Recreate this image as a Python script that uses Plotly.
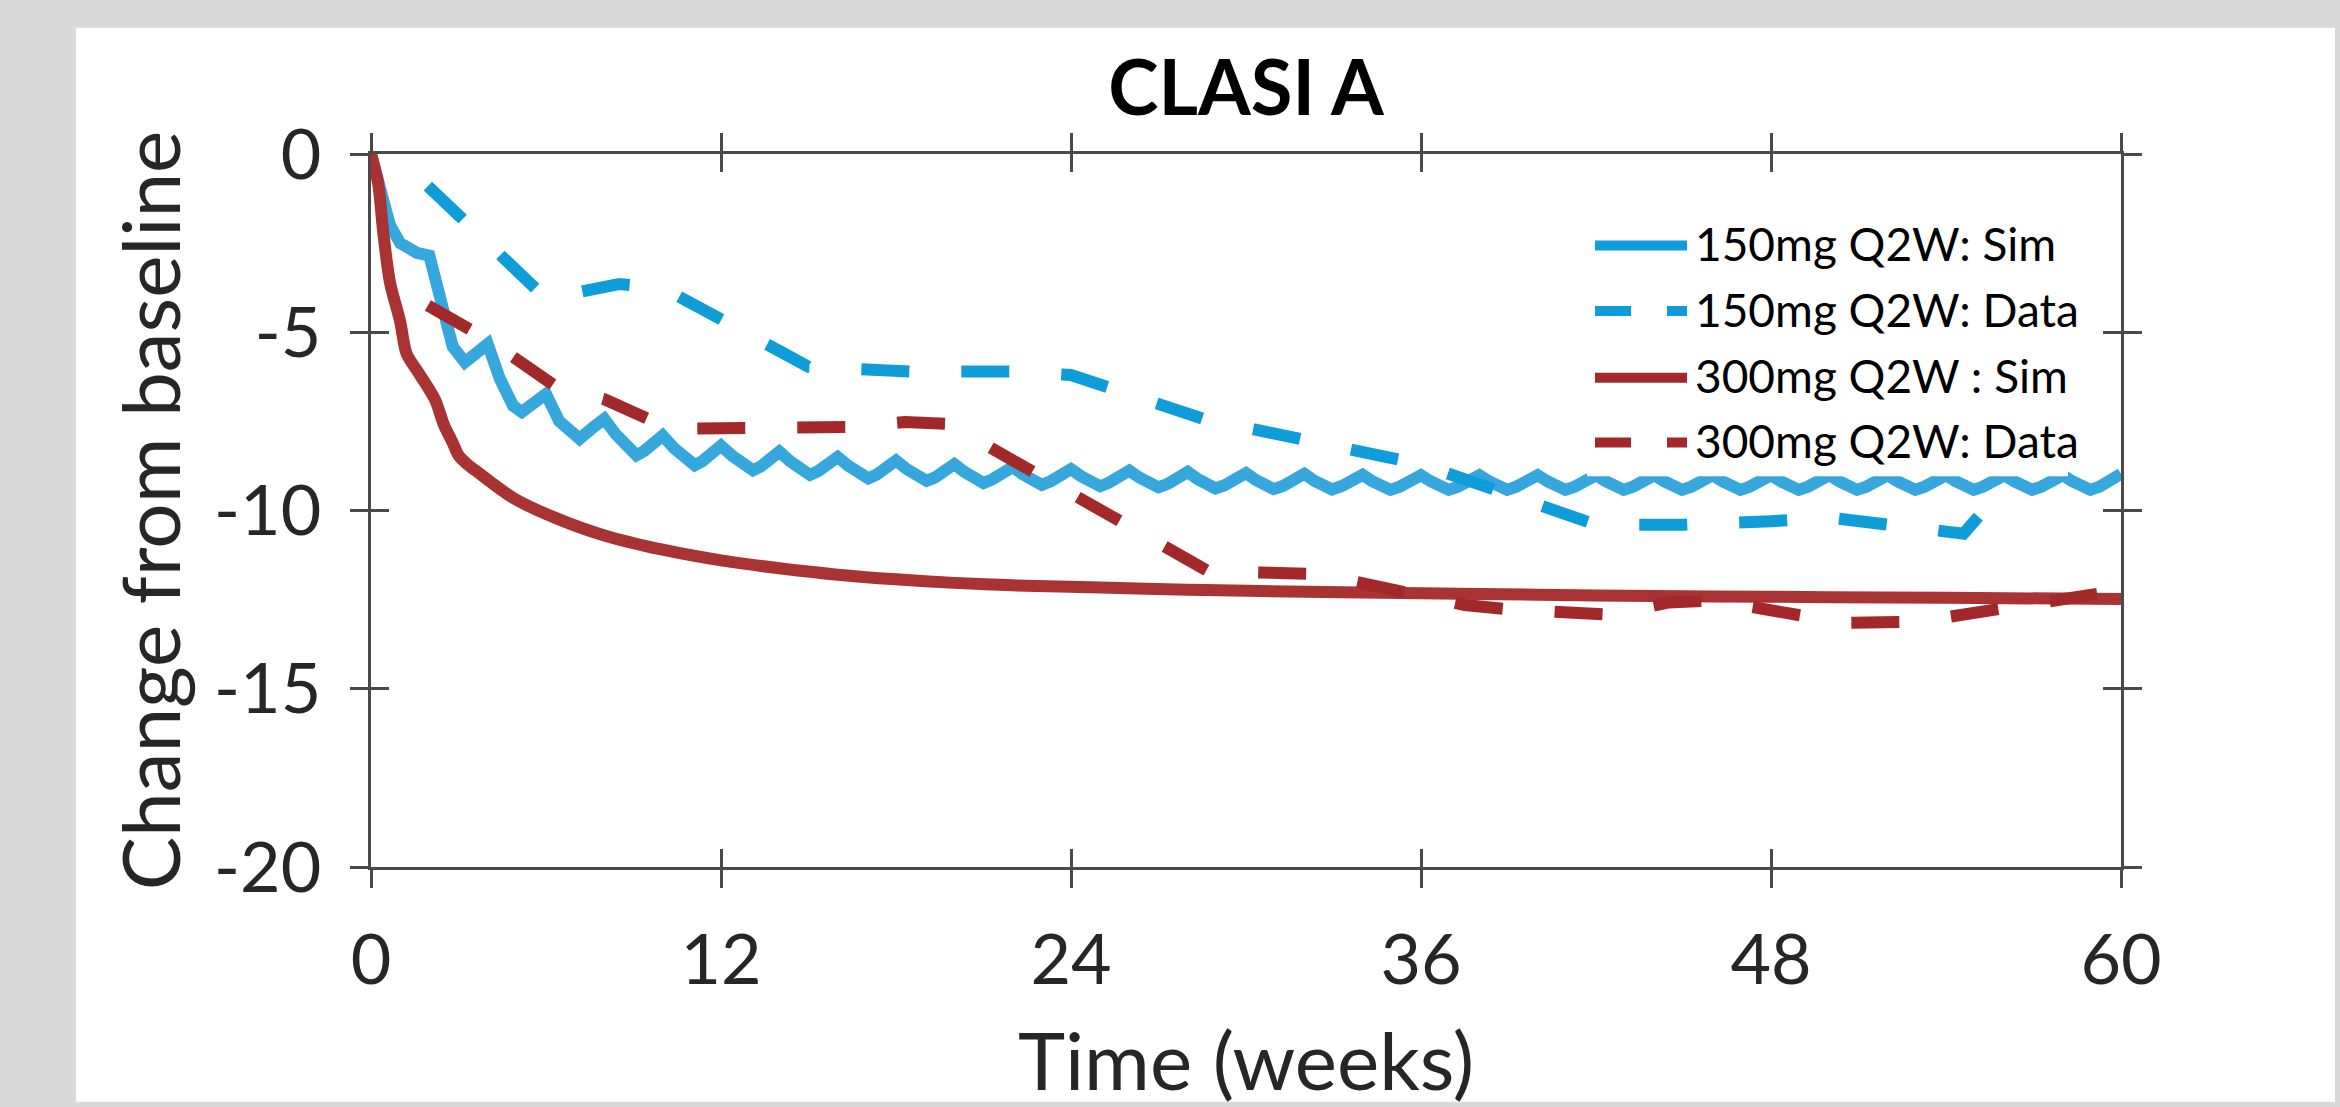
import plotly.graph_objects as go

# ---------------- data ----------------
weeks_ticks = [0, 12, 24, 36, 48, 60]
y_ticks = [0, -5, -10, -15, -20]

sim150_t = [0, 0.25, 0.42, 0.65, 1.0, 1.57, 2.0, 2.25, 2.47, 2.8, 3.22, 3.6, 4.0,
            4.42, 4.87, 5.17, 5.68, 6.0,
            6.45, 7.15, 7.6, 8.0,
            8.39, 8.77, 9.1, 9.37, 9.69, 10.0,
            10.39, 10.77, 11.1, 11.37, 11.69, 12.0,
            12.39, 12.77, 13.1, 13.37, 13.69, 14.0,
            14.37, 14.74, 15.05, 15.34, 15.67, 16.0,
            16.37, 16.74, 17.05, 17.34, 17.67, 18.0,
            18.37, 18.74, 19.05, 19.34, 19.67, 20.0,
            20.35, 20.7, 21.0, 21.3, 21.65, 22.0,
            22.35, 22.7, 23.0, 23.3, 23.65, 24.0,
            24.35, 24.7, 25.0, 25.3, 25.65, 26.0,
            26.35, 26.7, 27.0, 27.3, 27.65, 28.0,
            28.33, 28.67, 28.95, 29.27, 29.63, 30.0,
            30.33, 30.67, 30.95, 31.27, 31.63, 32.0,
            32.33, 32.67, 32.95, 33.27, 33.63, 34.0,
            34.33, 34.67, 34.95, 35.27, 35.63, 36.0,
            36.33, 36.67, 36.95, 37.27, 37.63, 38.0,
            38.33, 38.67, 38.95, 39.27, 39.63, 40.0,
            40.33, 40.67, 40.95, 41.27, 41.63, 42.0,
            42.33, 42.67, 42.95, 43.27, 43.63, 44.0,
            44.33, 44.67, 44.95, 45.27, 45.63, 46.0,
            46.33, 46.67, 46.95, 47.27, 47.63, 48.0,
            48.33, 48.67, 48.95, 49.27, 49.63, 50.0,
            50.33, 50.67, 50.95, 51.27, 51.63, 52.0,
            52.33, 52.67, 52.95, 53.27, 53.63, 54.0,
            54.33, 54.67, 54.95, 55.27, 55.63, 56.0,
            56.33, 56.67, 56.95, 57.27, 57.63, 58.0,
            58.33, 58.67, 58.95, 59.27, 59.63, 60.0]
sim150_v = [0, -0.7, -1.1, -2.0, -2.5, -2.77, -2.85, -3.7, -4.5, -5.4, -5.84, -5.6, -5.33,
            -6.31, -7.06, -7.24, -6.96, -6.73,
            -7.49, -7.99, -7.68, -7.43,
            -7.86, -8.23, -8.45, -8.33, -8.13, -7.90,
            -8.25, -8.55, -8.73, -8.61, -8.41, -8.18,
            -8.47, -8.72, -8.87, -8.76, -8.57, -8.35,
            -8.62, -8.86, -9.00, -8.89, -8.71, -8.50,
            -8.75, -8.97, -9.10, -8.99, -8.81, -8.60,
            -8.84, -9.05, -9.17, -9.07, -8.90, -8.70,
            -8.92, -9.11, -9.23, -9.13, -8.97, -8.78,
            -8.99, -9.17, -9.28, -9.18, -9.03, -8.84,
            -9.04, -9.21, -9.32, -9.22, -9.07, -8.88,
            -9.08, -9.25, -9.35, -9.26, -9.10, -8.92,
            -9.11, -9.28, -9.38, -9.29, -9.13, -8.95,
            -9.14, -9.30, -9.40, -9.31, -9.15, -8.97,
            -9.16, -9.31, -9.41, -9.32, -9.17, -9.00,
            -9.18, -9.33, -9.42, -9.33, -9.18, -9.01,
            -9.18, -9.33, -9.42, -9.33, -9.18, -9.01,
            -9.18, -9.33, -9.42, -9.33, -9.18, -9.01,
            -9.18, -9.33, -9.42, -9.33, -9.18, -9.01,
            -9.18, -9.33, -9.42, -9.33, -9.18, -9.01,
            -9.18, -9.33, -9.42, -9.33, -9.18, -9.01,
            -9.18, -9.33, -9.42, -9.33, -9.18, -9.01,
            -9.18, -9.33, -9.42, -9.33, -9.18, -9.01,
            -9.18, -9.33, -9.42, -9.33, -9.18, -9.01,
            -9.18, -9.33, -9.42, -9.33, -9.18, -9.01,
            -9.18, -9.33, -9.42, -9.33, -9.18, -9.01,
            -9.18, -9.33, -9.42, -9.33, -9.18, -9.01,
            -9.18, -9.33, -9.42, -9.33, -9.16, -8.97]

sim300_t = [0, 0.24, 0.42, 0.65, 1.0, 1.22, 1.68, 2.2, 2.5, 2.8, 3.0, 3.3, 3.7, 4.1, 4.9,
            6.3, 8.0, 10.0, 12.0, 14.0, 16.0, 18.0, 20.0, 22.0, 25.0, 28.0, 32.0,
            36.0, 40.0, 44.0, 48.0, 52.0, 56.0, 60.0]
sim300_v = [0, -0.8, -2.2, -3.6, -4.7, -5.6, -6.2, -6.9, -7.6, -8.1, -8.45, -8.7, -8.95, -9.2, -9.66,
            -10.2, -10.7, -11.1, -11.4, -11.62, -11.8, -11.93, -12.03, -12.1, -12.16, -12.22, -12.28,
            -12.32, -12.36, -12.4, -12.42, -12.44, -12.46, -12.48]

data150_t = [1.95, 6.0, 8.5, 10.0, 15.0, 18.5, 22.0, 24.0, 28.5, 36.0, 42.0, 45.0, 48.0, 50.0, 54.6, 55.4]
data150_v = [-0.9, -4.05, -3.65, -3.75, -5.97, -6.1, -6.1, -6.2, -7.42, -8.7, -10.4, -10.4, -10.3, -10.2, -10.65, -9.9]

data300_t = [1.95, 4.0, 6.3, 8.0, 9.5, 10.8, 16.3, 18.3, 19.8, 28.7, 32.5, 37.5, 39.0, 42.5, 44.5, 46.0,
             50.5, 53.0, 59.5]
data300_v = [-4.25, -5.2, -6.5, -6.88, -7.43, -7.7, -7.66, -7.52, -7.57, -11.7, -11.78, -12.65, -12.77,
             -12.92, -12.58, -12.52, -13.15, -13.12, -12.3]

legend_labels = ["150mg Q2W: Sim", "150mg Q2W: Data", "300mg Q2W : Sim", "300mg Q2W: Data"]

# ---------------- styling ----------------
BLUE_SIM = "#36a7dd"
BLUE = "#0e9dd8"
RED_SIM = "#a93232"
RED = "#a3282a"
AXC = "#4a4a4a"
TXT = "#262626"
FONT = "Lato"

W, H = 2340, 1107
L, R, T, B = 371, 2121, 154, 871  # plot area pixel box


def px(xp):
    return (xp - L) / (R - L)


def py(yp):
    return (B - yp) / (B - T)


fig = go.Figure()

fig.add_trace(go.Scatter(x=sim150_t, y=sim150_v, mode="lines", name=legend_labels[0],
                         line=dict(color=BLUE_SIM, width=12), showlegend=False))
fig.add_trace(go.Scatter(x=sim300_t, y=sim300_v, mode="lines", name=legend_labels[2],
                         line=dict(color=RED_SIM, width=12, shape="spline", smoothing=0.8),
                         showlegend=False))
fig.add_trace(go.Scatter(x=data150_t, y=data150_v, mode="lines", name=legend_labels[1],
                         line=dict(color=BLUE, width=12, dash="48px,52px"), showlegend=False))
fig.add_trace(go.Scatter(x=data300_t, y=data300_v, mode="lines", name=legend_labels[3],
                         line=dict(color=RED, width=12, dash="48px,52px"), showlegend=False))
# empty trace to carry the inner-tick overlay axes
fig.add_trace(go.Scatter(x=[], y=[], xaxis="x2", yaxis="y2", showlegend=False, hoverinfo="skip"))

shapes = []
# white slide panel
shapes.append(dict(type="rect", xref="paper", yref="paper", layer="below",
                   x0=px(76), x1=px(2335), y0=py(1107), y1=py(27),
                   fillcolor="white", line=dict(width=0)))
# legend box (covers the curves)
shapes.append(dict(type="rect", xref="paper", yref="paper", layer="above",
                   x0=px(1587), x1=px(2068), y0=py(478), y1=py(205),
                   fillcolor="white", line=dict(width=0)))
row_y = [246, 312, 379, 444]
leg_colors = [BLUE, BLUE, RED, RED]
leg_dash = ["solid", "36px,36px", "solid", "36px,36px"]
annotations = []
for lab, yy, c, d in zip(legend_labels, row_y, leg_colors, leg_dash):
    shapes.append(dict(type="line", xref="paper", yref="paper", layer="above",
                       x0=px(1595), x1=px(1687), y0=py(yy), y1=py(yy),
                       line=dict(color=c, width=10, dash=d)))
    annotations.append(dict(text=lab, xref="paper", yref="paper", x=px(1693), y=py(yy - 2),
                            xanchor="left", yanchor="middle", showarrow=False,
                            font=dict(family=FONT, size=46, color="black")))

axis_common = dict(showgrid=False, zeroline=False, ticklen=18, tickwidth=2.5, tickcolor=AXC)

fig.update_layout(
    width=W, height=H,
    paper_bgcolor="#d9d9d9", plot_bgcolor="white",
    margin=dict(l=L, r=W - R, t=T, b=H - B, pad=0),
    title=dict(text="<b>CLASI A</b>", x=(L + R) / 2 / W, xanchor="center",
               y=1 - 88 / H, yanchor="middle", font=dict(family=FONT, size=76, color="black")),
    xaxis=dict(range=[0, 60], tickvals=weeks_ticks, ticktext=[str(v) for v in weeks_ticks],
               ticks="outside", mirror="ticks", showline=True, linecolor=AXC, linewidth=2.5,
               tickfont=dict(family=FONT, size=70, color=TXT), ticklabelstandoff=12,
               title=dict(text="Time (weeks)", font=dict(family=FONT, size=80, color=TXT), standoff=40),
               **axis_common),
    yaxis=dict(range=[-20, 0], tickvals=y_ticks, ticktext=[str(v) for v in y_ticks],
               ticks="outside", mirror="ticks", showline=True, linecolor=AXC, linewidth=2.5,
               tickfont=dict(family=FONT, size=70, color=TXT), ticklabelstandoff=15,
               title=dict(text="Change from baseline", font=dict(family=FONT, size=80, color=TXT), standoff=8),
               **axis_common),
    xaxis2=dict(range=[0, 60], tickvals=weeks_ticks, overlaying="x", ticks="inside", mirror="ticks",
                showticklabels=False, showline=False, **axis_common),
    yaxis2=dict(range=[-20, 0], tickvals=y_ticks, overlaying="y", ticks="inside", mirror="ticks",
                showticklabels=False, showline=False, **axis_common),
    shapes=shapes, annotations=annotations, showlegend=False,
)

fig.write_html("out.html",
               config={"displayModeBar": False},
               post_script="document.body.style.margin='0px';"
                           "document.body.style.overflow='hidden';"
                           "document.body.style.background='#d9d9d9';")
